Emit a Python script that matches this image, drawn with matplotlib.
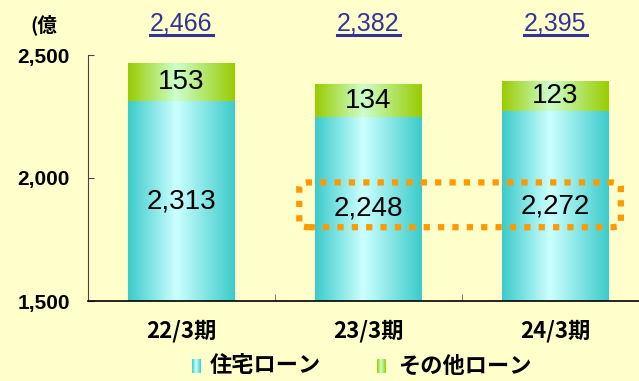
import numpy as np
import matplotlib.pyplot as plt
from matplotlib.colors import LinearSegmentedColormap
from matplotlib.patches import FancyBboxPatch
from matplotlib.lines import Line2D
from matplotlib.transforms import blended_transform_factory

periods = ['22/3期', '23/3期', '24/3期']
housing = [2313, 2248, 2272]
other = [153, 134, 123]
totals = [2466, 2382, 2395]
series_names = ['住宅ローン', 'その他ローン']

bg = '#FFFFCC'
cyan_map = LinearSegmentedColormap.from_list(
    'cyan', [(0, '#3CCBCB'), (0.45, '#CCFFFF'), (1, '#3CCBCB')])
green_map = LinearSegmentedColormap.from_list(
    'green', [(0, '#99CC00'), (0.45, '#CCFFCC'), (1, '#99CC00')])

jp = ['Noto Sans CJK JP', 'DejaVu Sans']
num = 'Liberation Sans'
ymin, ymax = 1500, 2500

fig = plt.figure(figsize=(6.39, 3.81), dpi=100, facecolor=bg)
ax = fig.add_axes([88 / 639, 1 - 301 / 381, 1 - 88 / 639, (301 - 55) / 381])
ax.set_facecolor(bg)

grad = np.linspace(0, 1, 256).reshape(1, -1)
x = np.arange(len(periods))
w = 0.57


def gradient_bar(xc, bottom, top, cmap):
    bar = ax.bar(xc, top - bottom, w, bottom=bottom, color='none',
                 edgecolor='none')[0]
    im = ax.imshow(grad, cmap=cmap, aspect='auto', zorder=2,
                   extent=(xc - w / 2, xc + w / 2, bottom, top))
    im.set_clip_path(bar)


for i in range(len(periods)):
    gradient_bar(x[i], ymin, housing[i], cyan_map)
    gradient_bar(x[i], housing[i], housing[i] + other[i], green_map)
    ax.text(x[i], (ymin + housing[i]) / 2, f'{housing[i]:,}', ha='center',
            va='center', fontsize=20, family=num, zorder=4)
    ax.text(x[i], housing[i] + other[i] / 2, f'{other[i]:,}', ha='center',
            va='center', fontsize=20, family=num, zorder=4)

ax.set_xlim(-0.5, 2.447)
ax.set_ylim(ymin, ymax)

# dotted highlight round the last two housing values
box = FancyBboxPatch((0.63, 1800), 1.72, 182,
                     boxstyle='round,pad=0,rounding_size=0.05',
                     mutation_aspect=350, fill=False, edgecolor='#FF9900',
                     linewidth=4.5, linestyle=(0, (1, 1.3)), zorder=5)
ax.add_patch(box)

for s in ['top', 'right']:
    ax.spines[s].set_visible(False)
ax.spines['left'].set_color('#444444')
ax.spines['bottom'].set_color('black')
ax.spines['bottom'].set_linewidth(1.2)
ax.spines['bottom'].set_zorder(6)

ax.set_yticks([1500, 2000, 2500])
ax.set_yticklabels(['1,500', '2,000', '2,500'])
ax.tick_params(axis='y', direction='in', length=4, pad=13, color='#444444',
               labelsize=15)
for lbl in ax.get_yticklabels():
    lbl.set_family(num)
    lbl.set_fontweight('bold')

ax.set_xticks(x)
ax.set_xticklabels(periods, family=jp, fontweight='bold', fontsize=16)
ax.tick_params(axis='x', length=0, pad=13)
ax.set_xticks([0.5, 1.5], minor=True)
ax.tick_params(axis='x', which='minor', direction='in', length=5,
               color='#666666')

fig.text(30 / 639, 1 - 25 / 381, '(億', family=jp, fontweight='bold',
         fontsize=14, va='center', ha='left')

# totals above each bar, underlined
bt = blended_transform_factory(ax.transData, fig.transFigure)
fig.canvas.draw()
r = fig.canvas.get_renderer()
for i in range(len(periods)):
    t = ax.text(x[i], 1 - 24 / 381, f'{totals[i]:,}', ha='center', va='center',
                fontsize=18, color='#333399', family=num,
                transform=bt, clip_on=False)
    bb = t.get_window_extent(renderer=r)
    yl = 1 - 35 / 381
    fig.add_artist(Line2D([bb.x0 / 639, bb.x1 / 639], [yl, yl],
                          color='#333399', linewidth=2.2))

# legend with gradient swatches
legend_y = 1 - 366 / 381
for name, cmap, sx, tx in [(series_names[0], cyan_map, 192, 210),
                           (series_names[1], green_map, 377, 398)]:
    sw = fig.add_axes([sx / 639, legend_y - 7 / 381, 9 / 639, 14 / 381])
    sw.imshow(grad, cmap=cmap, aspect='auto')
    sw.axis('off')
    fig.text(tx / 639, legend_y, name, family=jp, fontweight='bold',
             fontsize=16, va='center', ha='left')

fig.savefig('out.png', dpi=100, facecolor=bg)
